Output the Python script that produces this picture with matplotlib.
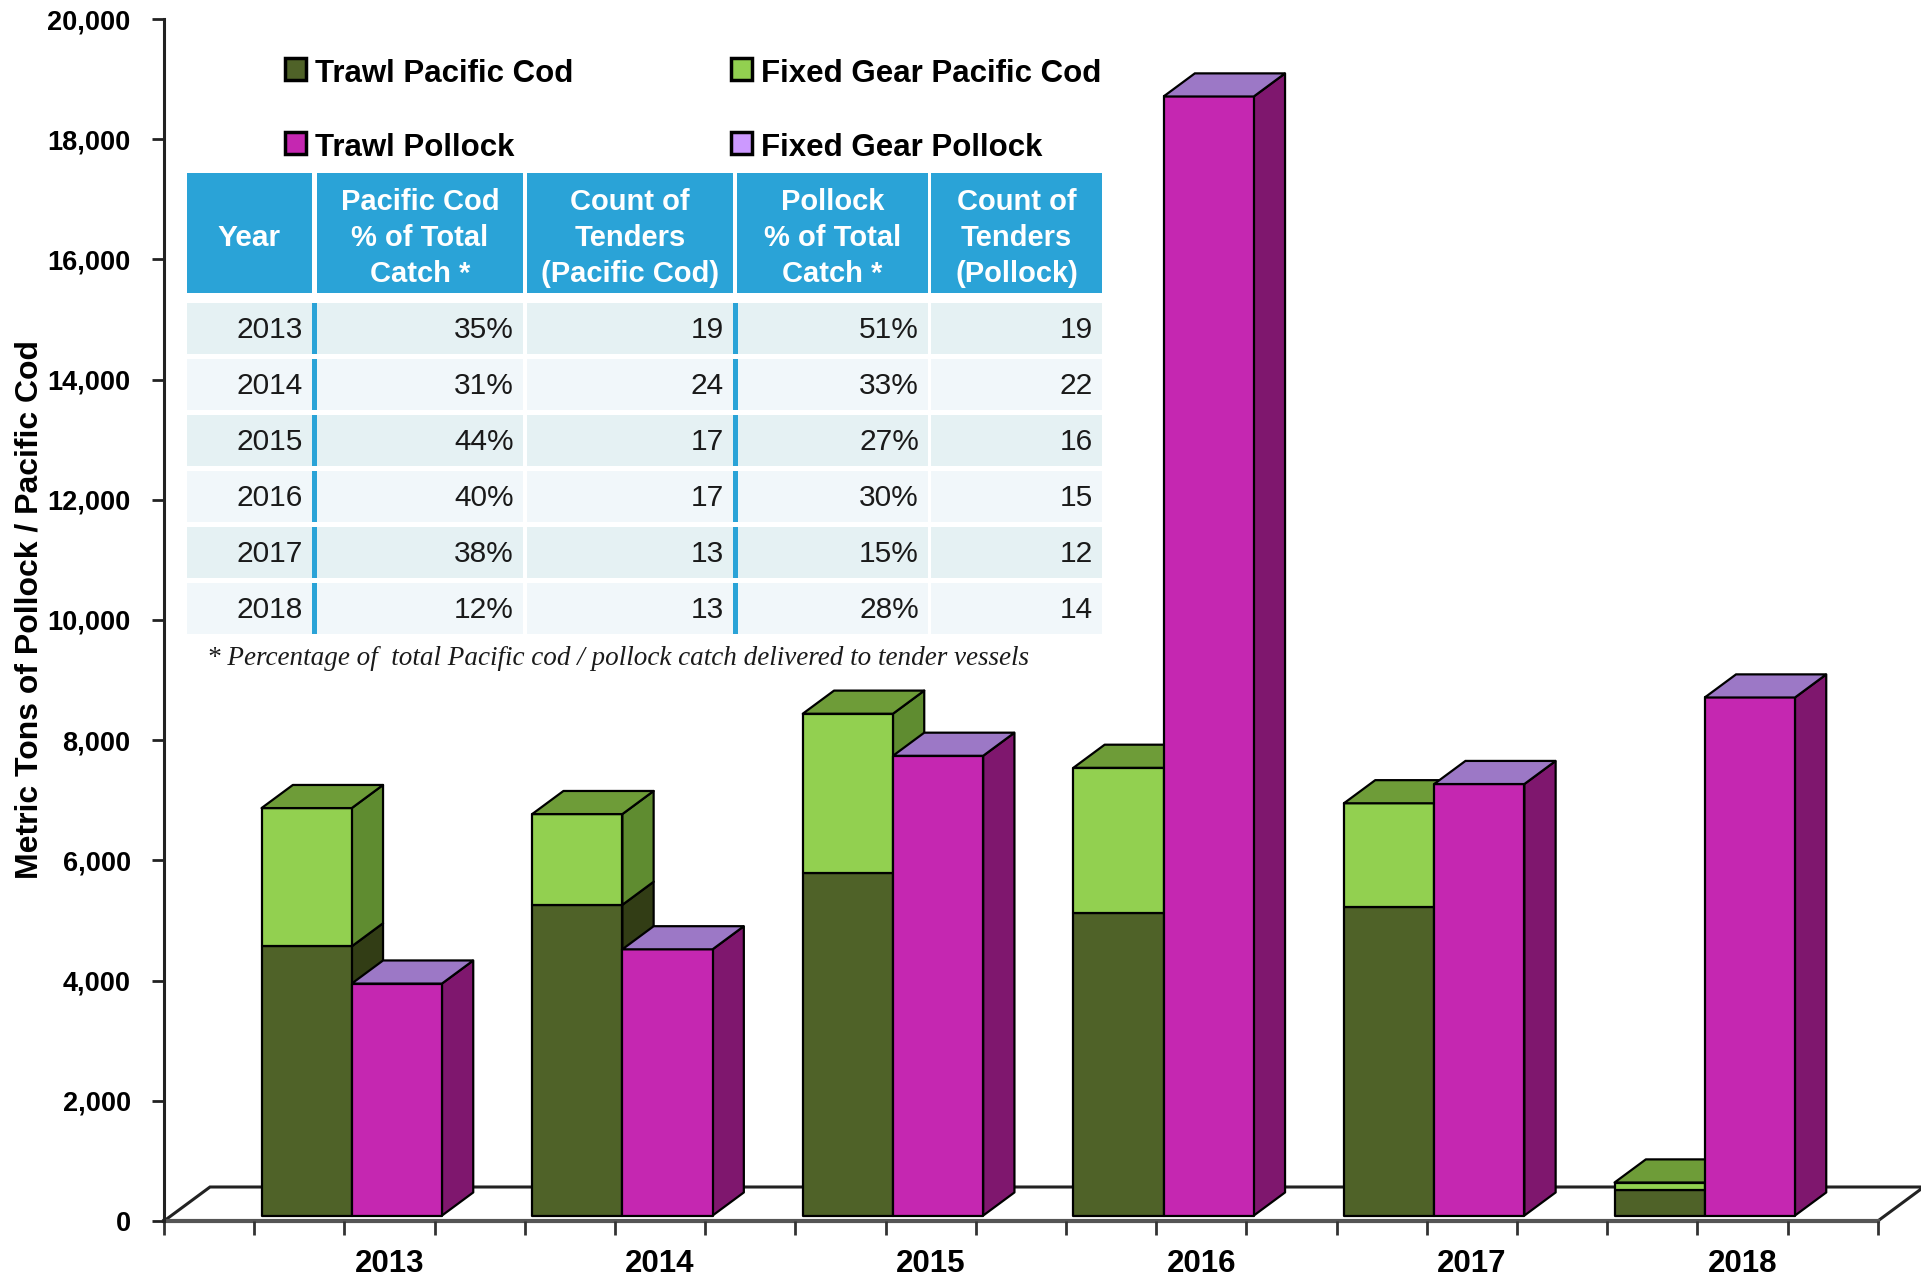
import numpy as np
import matplotlib
matplotlib.use('Agg')
import matplotlib.pyplot as plt
from matplotlib.patches import Polygon, Rectangle

plt.rcParams['font.family'] = ['Liberation Sans', 'DejaVu Sans']

# ---- data (metric tons) ----
years = ['2013', '2014', '2015', '2016', '2017', '2018']
trawl_cod = [4480, 5170, 5700, 5030, 5130, 420]
fixed_cod = [2300, 1510, 2650, 2420, 1730, 130]
trawl_pollock = [3860, 4430, 7650, 18620, 7180, 8620]
fixed_pollock = [0, 0, 0, 0, 0, 0]

# ---- table ----
tbl_headers = ['Year', 'Pacific Cod\n% of Total\nCatch *', 'Count of\nTenders\n(Pacific Cod)',
               'Pollock\n% of Total\nCatch *', 'Count of\nTenders\n(Pollock)']
cod_pct = ['35%', '31%', '44%', '40%', '38%', '12%']
cod_tenders = ['19', '24', '17', '17', '13', '13']
pollock_pct = ['51%', '33%', '27%', '30%', '15%', '28%']
pollock_tenders = ['19', '22', '16', '15', '12', '14']
footnote = '* Percentage of  total Pacific cod / pollock catch delivered to tender vessels'

legend_labels = ['Trawl Pacific Cod', 'Fixed Gear Pacific Cod', 'Trawl Pollock', 'Fixed Gear Pollock']
legend_colors = ['#4F6228', '#92D050', '#C527B1', '#CC99FF']

# face colours (front, side, top) per series
cols = {
    'trawl_cod': ('#4F6228', '#323D15', '#5C7230'),
    'fixed_cod': ('#92D050', '#5F8C30', '#6E9C38'),
    'trawl_pollock': ('#C527B1', '#7F176E', '#D95FC8'),
    'fixed_pollock': ('#CC99FF', '#7F5FA0', '#9C78C6'),
}

W, H = 1921, 1275
fig = plt.figure(figsize=(W / 100, H / 100), dpi=100)

def fx(x):
    return x / W

def fy(y):
    return 1 - y / H

# axes placed so that slot 0 / value 0 sit where the reference floor corner is
x0px, y0px, slot_px = 164, 1221, 90.2
ax = fig.add_axes([fx(x0px), fy(y0px), 1 - fx(x0px), (y0px - 19) / H])
ax.set_xlim(0, (W - x0px) / slot_px)
ax.set_ylim(0, 20000)
ax.set_facecolor('none')

DX = 46 / slot_px            # floor depth in slots
DY = 34 * 20000 / (y0px - 19)  # floor depth in value units
D0, D1 = 0.16, 0.84          # bar depth inside the floor
nslots = 3 * len(years) + 1

# floor
floor = Polygon([(0, 0), (nslots, 0), (nslots + DX, DY), (DX, DY)], closed=True,
                facecolor='white', edgecolor='#222222', lw=2.2, clip_on=False, zorder=1)
ax.add_patch(floor)
ax.plot([0, nslots], [0, 0], color='#555555', lw=3, clip_on=False, zorder=1.5)


def box(x, v0, v1, c, top, z):
    front = [(x + D0 * DX, v0 + D0 * DY), (x + 1 + D0 * DX, v0 + D0 * DY),
             (x + 1 + D0 * DX, v1 + D0 * DY), (x + D0 * DX, v1 + D0 * DY)]
    side = [(x + 1 + D0 * DX, v0 + D0 * DY), (x + 1 + D1 * DX, v0 + D1 * DY),
            (x + 1 + D1 * DX, v1 + D1 * DY), (x + 1 + D0 * DX, v1 + D0 * DY)]
    kw = dict(closed=True, edgecolor='black', lw=1.6, clip_on=False, joinstyle='round')
    ax.add_patch(Polygon(side, facecolor=c[1], zorder=z, **kw))
    ax.add_patch(Polygon(front, facecolor=c[0], zorder=z, **kw))
    if top is not None:
        tp = [(x + D0 * DX, v1 + D0 * DY), (x + 1 + D0 * DX, v1 + D0 * DY),
              (x + 1 + D1 * DX, v1 + D1 * DY), (x + D1 * DX, v1 + D1 * DY)]
        ax.add_patch(Polygon(tp, facecolor=top, zorder=z, **kw))


z = 2
for i in range(len(years)):
    xc = 1 + 3 * i
    # cod stack
    box(xc, 0, trawl_cod[i], cols['trawl_cod'], None, z)
    box(xc, trawl_cod[i], trawl_cod[i] + fixed_cod[i], cols['fixed_cod'], cols['fixed_cod'][2], z)
    z += 1
    # pollock stack (fixed gear pollock sits on top, its cap shows the lavender top)
    xp = xc + 1
    box(xp, 0, trawl_pollock[i], cols['trawl_pollock'], None, z)
    if fixed_pollock[i] > 0:
        box(xp, trawl_pollock[i], trawl_pollock[i] + fixed_pollock[i], cols['fixed_pollock'], None, z)
    top_v = trawl_pollock[i] + fixed_pollock[i]
    tp = [(xp + D0 * DX, top_v + D0 * DY), (xp + 1 + D0 * DX, top_v + D0 * DY),
          (xp + 1 + D1 * DX, top_v + D1 * DY), (xp + D1 * DX, top_v + D1 * DY)]
    ax.add_patch(Polygon(tp, closed=True, facecolor=cols['fixed_pollock'][2], edgecolor='black',
                         lw=1.6, clip_on=False, zorder=z))
    z += 1

# axes styling
for s in ['top', 'right', 'bottom']:
    ax.spines[s].set_visible(False)
ax.spines['left'].set_color('#222222')
ax.spines['left'].set_linewidth(2.2)
ax.set_yticks(np.arange(0, 20001, 2000))
ax.set_yticklabels([f'{v:,}' for v in range(0, 20001, 2000)], fontsize=19.5, fontweight='bold')
ax.tick_params(axis='y', length=9, width=2, color='#222222', pad=15)
ax.set_xticks(np.arange(0, nslots + 1))
ax.set_xticklabels([])
ax.set_xticks([2.5 + 3 * i for i in range(len(years))], minor=True)
ax.set_xticklabels(years, minor=True, fontsize=22.5, fontweight='bold')
ax.tick_params(axis='x', which='major', length=10, width=2, color='#333333')
ax.tick_params(axis='x', which='minor', length=0, pad=20)

fig.text(fx(30), fy(610), 'Metric Tons of Pollock / Pacific Cod', rotation=90,
         ha='center', va='center', fontsize=23, fontweight='bold')

# legend
leg_pos = [(285, 58), (731, 58), (285, 132), (731, 132)]
for (lx, ly), lab, c in zip(leg_pos, legend_labels, legend_colors):
    fig.patches.append(Rectangle((fx(lx), fy(ly + 22)), 21 / W, 22 / H, transform=fig.transFigure,
                                 facecolor=c, edgecolor='black', lw=2.5, zorder=5))
    fig.text(fx(lx + 30), fy(ly + 24), lab, ha='left', va='baseline', fontsize=22.5,
             fontweight='bold')

# table
blue = '#2AA3D7'
col_edges = [(187, 312), (317, 523), (527, 733), (737, 928), (931, 1102)]
head_top, head_bot = 173, 293
for (l, r), h in zip(col_edges, tbl_headers):
    fig.patches.append(Rectangle((fx(l), fy(head_bot)), (r - l) / W, (head_bot - head_top) / H,
                                 transform=fig.transFigure, facecolor=blue, edgecolor='none'))
    lines = h.split('\n')
    if len(lines) == 1:
        fig.text(fx((l + r) / 2), fy(246), lines[0], ha='center', va='baseline',
                 color='white', fontsize=21.5, fontweight='bold')
    else:
        for k, ln in enumerate(lines):
            fig.text(fx((l + r) / 2), fy(210 + 36 * k), ln, ha='center', va='baseline',
                     color='white', fontsize=21, fontweight='bold')

table_cols = [years, cod_pct, cod_tenders, pollock_pct, pollock_tenders]
row_colors = ['#E5F1F3', '#F1F7FA']
for i in range(len(years)):
    top = 303 + 56 * i
    bot = top + 51
    for j, (l, r) in enumerate(col_edges):
        fig.patches.append(Rectangle((fx(l), fy(bot)), (r - l) / W, (bot - top) / H,
                                     transform=fig.transFigure, facecolor=row_colors[i % 2],
                                     edgecolor='none'))
        fig.text(fx(r - 9), fy(top + 35), table_cols[j][i], ha='right', va='baseline',
                 fontsize=21.5, color='#1A1A1A')
    for bx in (312, 733):
        fig.patches.append(Rectangle((fx(bx), fy(bot)), 4.5 / W, (bot - top) / H,
                                     transform=fig.transFigure, facecolor=blue, edgecolor='none'))

fig.text(fx(207), fy(665), footnote, ha='left', va='baseline', fontsize=19.5,
         fontstyle='italic', family=['Liberation Serif', 'DejaVu Serif'], color='#1A1A1A')

fig.savefig('out.png', dpi=100)
